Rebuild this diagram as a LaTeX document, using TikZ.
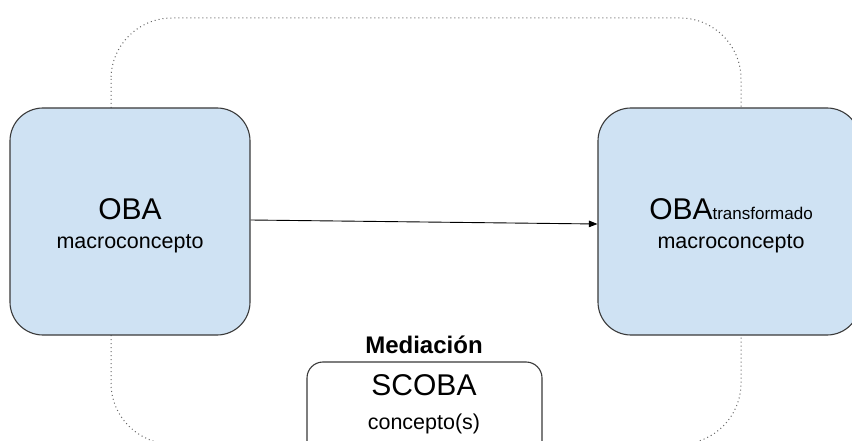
\documentclass[tikz,border=0pt]{standalone}
\usepackage{fontspec}
\setmainfont{Liberation Sans}
\usetikzlibrary{arrows.meta}
\definecolor{boxfill}{HTML}{CFE2F3}
\definecolor{boxline}{HTML}{3A3A3A}
\tikzset{
  concept/.style={draw=boxline, line width=1.1pt, fill=boxfill, rounded corners=33pt,
    inner sep=0pt, minimum height=227pt},
  medbox/.style={draw=boxline, line width=1.1pt, fill=white, rounded corners=16pt,
    inner sep=0pt, minimum width=235pt, minimum height=108pt},
  frame/.style={draw=gray!80!black, line width=1pt, dash pattern=on 1pt off 3pt, rounded corners=61pt},
  bigtxt/.style={anchor=base, inner sep=0pt, font=\fontsize{30}{36}\selectfont},
  smalltxt/.style={anchor=base, inner sep=0pt, font=\fontsize{21.5}{26}\selectfont},
  link/.style={draw=black, line width=0.9pt, -{Triangle[length=8.5pt,width=6.5pt]}}
}
\begin{document}
\begin{tikzpicture}[x=1pt,y=-1pt]
  \useasboundingbox (0,0) rectangle (852,441);
  \clip (0,0) rectangle (852,441);
  \fill[white] (0,0) rectangle (852,441);

  % dotted outline around the whole process
  \draw[frame] (111,18) rectangle (741,444);

  % the two macroconcept boxes
  \node[concept, minimum width=240pt] (oba) at (130,221.5) {};
  \node[concept, minimum width=262pt] (obat) at (729,221.5) {};

  \node[bigtxt] (obaname) at (130,219) {OBA};
  \node[smalltxt] (obasub) at (130,248) {macroconcepto};

  \node[bigtxt] (obatname) at (731,219) {OBA{\fontsize{17}{20}\selectfont transformado}};
  \node[smalltxt] (obatsub) at (731,248) {macroconcepto};

  % transformation arrow
  \draw[link] ([yshift=1.5pt]oba.east) -- ([yshift=-2.5pt]obat.west);

  % mediation box
  \node[anchor=base, inner sep=0pt, font=\bfseries\fontsize{24}{28}\selectfont] (medlabel) at (424,353) {Mediación};
  \node[medbox] (scoba) at (424.5,416) {};
  \node[bigtxt] (scobaname) at (424,395) {SCOBA};
  \node[smalltxt] (scobasub) at (424,429) {concepto(s)};
\end{tikzpicture}
\end{document}
